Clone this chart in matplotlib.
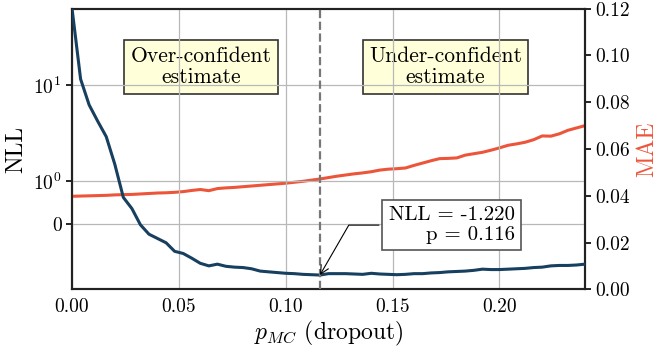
import numpy as np
import matplotlib
matplotlib.use('Agg')
import matplotlib.pyplot as plt

plt.rcParams['font.family'] = 'cmr10'
plt.rcParams['mathtext.fontset'] = 'cm'
plt.rcParams['axes.formatter.use_mathtext'] = True

# dropout probability grid
p_mc = [0.000, 0.004, 0.008, 0.012, 0.016, 0.020, 0.024, 0.028, 0.032, 0.036,
        0.040, 0.044, 0.048, 0.052, 0.056, 0.060, 0.064, 0.068, 0.072, 0.076,
        0.080, 0.084, 0.088, 0.092, 0.096, 0.100, 0.104, 0.108, 0.112, 0.116,
        0.120, 0.124, 0.128, 0.132, 0.136, 0.140, 0.144, 0.148, 0.152, 0.156,
        0.160, 0.164, 0.168, 0.172, 0.176, 0.180, 0.184, 0.188, 0.192, 0.196,
        0.200, 0.204, 0.208, 0.212, 0.216, 0.220, 0.224, 0.228, 0.232, 0.236,
        0.240]

nll = [62.0, 11.5, 6.2, 4.2, 2.9, 1.5, 0.62, 0.36, -0.02, -0.24,
       -0.34, -0.44, -0.64, -0.69, -0.80, -0.92, -0.98, -0.94, -0.99, -1.01,
       -1.02, -1.05, -1.11, -1.13, -1.15, -1.17, -1.18, -1.20, -1.21, -1.22,
       -1.18, -1.18, -1.18, -1.19, -1.20, -1.17, -1.19, -1.20, -1.21, -1.20,
       -1.18, -1.18, -1.16, -1.15, -1.13, -1.12, -1.11, -1.09, -1.06, -1.07,
       -1.07, -1.06, -1.05, -1.04, -1.02, -1.01, -0.98, -0.97, -0.97, -0.96,
       -0.94]

mae = [0.0398, 0.0399, 0.0400, 0.0401, 0.0402, 0.0404, 0.0405, 0.0406, 0.0408, 0.0410,
       0.0412, 0.0413, 0.0415, 0.0418, 0.0423, 0.0427, 0.0422, 0.0431, 0.0434, 0.0436,
       0.0439, 0.0442, 0.0445, 0.0448, 0.0451, 0.0454, 0.0458, 0.0462, 0.0467, 0.0472,
       0.0478, 0.0484, 0.0489, 0.0494, 0.0498, 0.0503, 0.0510, 0.0514, 0.0516, 0.0519,
       0.0530, 0.0540, 0.0550, 0.0559, 0.0560, 0.0562, 0.0574, 0.0580, 0.0586, 0.0595,
       0.0605, 0.0616, 0.0622, 0.0629, 0.0640, 0.0656, 0.0655, 0.0665, 0.0680, 0.0690,
       0.0700]

best_p = 0.116
best_nll = -1.220

nll_color = '#173F5F'
mae_color = '#ED553B'

fig = plt.figure(figsize=(6.61, 3.47), dpi=100)
ax = fig.add_axes([0.109, 0.166, 0.776, 0.809])

ax.plot(p_mc, nll, color=nll_color, lw=2.2, zorder=3)
ax.set_yscale('symlog', linthresh=1, linscale=0.4)
ax.set_ylim(-1.72, 62)
ax.set_xlim(0, 0.24)
ax.set_yticks([0, 1, 10])
ax.set_yticklabels(['0', r'$10^0$', r'$10^1$'])
ax.yaxis.set_minor_locator(matplotlib.ticker.NullLocator())
ax.set_xticks([0, 0.05, 0.10, 0.15, 0.20])
ax.set_xticklabels(['0.00', '0.05', '0.10', '0.15', '0.20'])
ax.grid(True, color='#b8b8b8', lw=0.9)
ax.set_axisbelow(True)
ax.tick_params(axis='x', length=0, labelsize=14, pad=6)
ax.tick_params(axis='y', length=4, width=1.2, labelsize=14)
ax.set_ylabel('NLL', fontsize=17)
ax.set_xlabel(r'$p_{MC}$ (dropout)', fontsize=17, labelpad=2)
for s in ax.spines.values():
    s.set_linewidth(1.5)
    s.set_color('#222222')

ax.axvline(best_p, color='#777777', ls='--', lw=1.6, zorder=4)

ax2 = ax.twinx()
ax2.plot(p_mc, mae, color=mae_color, lw=2.2)
ax2.set_ylim(0, 0.12)
ax2.set_yticks([0.0, 0.02, 0.04, 0.06, 0.08, 0.10, 0.12])
ax2.set_yticklabels(['0.00', '0.02', '0.04', '0.06', '0.08', '0.10', '0.12'])
ax2.tick_params(axis='y', length=4, width=1.2, labelsize=14)
ax2.set_ylabel('MAE', fontsize=17, color=mae_color)
for s in ax2.spines.values():
    s.set_linewidth(1.5)
    s.set_color('#222222')

box = dict(boxstyle='square,pad=0.3', facecolor='#ffffd9', edgecolor='#333333', lw=1.2)
ax2.text(0.251, 0.793, 'Over-confident\nestimate', transform=ax2.transAxes,
         ha='center', va='center', fontsize=15.5, bbox=box, linespacing=1.15, zorder=6)
ax2.text(0.728, 0.793, 'Under-confident\nestimate', transform=ax2.transAxes,
         ha='center', va='center', fontsize=15.5, bbox=box, linespacing=1.15, zorder=6)

ax.annotate(f'NLL = {best_nll:.3f}\np = {best_p:.3f}', xy=(best_p, best_nll),
            xytext=(0.74, 0.229), textcoords='axes fraction',
            ha='center', va='center', multialignment='right', fontsize=15,
            linespacing=1.15, zorder=7,
            bbox=dict(boxstyle='square,pad=0.3', facecolor='white', edgecolor='#555555', lw=1.2),
            arrowprops=dict(arrowstyle='->', connectionstyle='angle,angleA=0,angleB=60,rad=0',
                            color='black', lw=0.8, shrinkB=0))
# bring annotation above the twin axes
ax.set_zorder(ax2.get_zorder() + 1)
ax.patch.set_visible(False)

fig.savefig('out.png', dpi=100)
